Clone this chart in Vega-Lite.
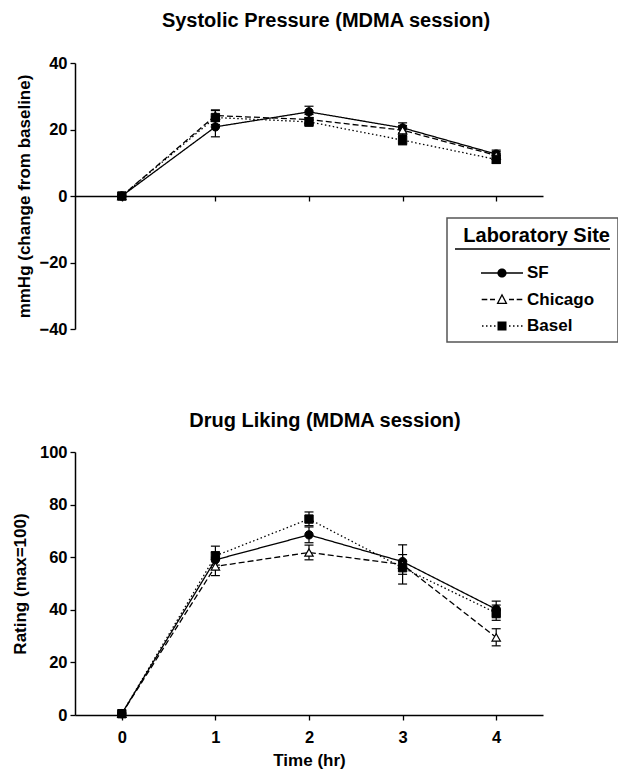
{
  "$schema": "https://vega.github.io/schema/vega-lite/v6.json",
  "padding": {"left": 11, "top": 11, "right": 0, "bottom": 5},
  "config": {
    "font": "Liberation Sans",
    "view": {"stroke": null},
    "axis": {
      "grid": false,
      "domainColor": "black",
      "domainWidth": 1.5,
      "tickColor": "black",
      "tickWidth": 1.3,
      "tickSize": 5,
      "labelFont": "Liberation Sans",
      "labelFontSize": 16.5,
      "labelFontWeight": "bold",
      "labelColor": "black",
      "labelPadding": 3,
      "titleFont": "Liberation Sans",
      "titleFontSize": 17,
      "titleFontWeight": "bold",
      "titleColor": "black"
    },
    "legend": {"strokeWidth": 1.5},
    "title": {"font": "Liberation Sans", "fontSize": 20, "fontWeight": "bold", "color": "black"}
  },
  "datasets": {
    "bp": [
      {"time": 0, "site": "SF", "value": 0, "lo": 0, "hi": 0},
      {"time": 0, "site": "Chicago", "value": 0, "lo": 0, "hi": 0},
      {"time": 0, "site": "Basel", "value": 0, "lo": 0, "hi": 0},
      {"time": 1, "site": "SF", "value": 20.8, "lo": 17.8, "hi": 23.8},
      {"time": 1, "site": "Chicago", "value": 24.2, "lo": 22.5, "hi": 25.9},
      {"time": 1, "site": "Basel", "value": 23.6, "lo": 21.5, "hi": 25.7},
      {"time": 2, "site": "SF", "value": 25.3, "lo": 23.6, "hi": 27.0},
      {"time": 2, "site": "Chicago", "value": 23.0, "lo": 21.5, "hi": 24.5},
      {"time": 2, "site": "Basel", "value": 22.3, "lo": 21.0, "hi": 23.6},
      {"time": 3, "site": "SF", "value": 20.5, "lo": 19.0, "hi": 22.0},
      {"time": 3, "site": "Chicago", "value": 19.8, "lo": 18.4, "hi": 21.2},
      {"time": 3, "site": "Basel", "value": 16.8, "lo": 15.4, "hi": 18.2},
      {"time": 4, "site": "SF", "value": 12.6, "lo": 11.4, "hi": 13.8},
      {"time": 4, "site": "Chicago", "value": 12.2, "lo": 11.0, "hi": 13.4},
      {"time": 4, "site": "Basel", "value": 11.0, "lo": 9.8, "hi": 12.2}
    ],
    "liking": [
      {"time": 0, "site": "SF", "value": 0.5, "lo": 0.5, "hi": 0.5},
      {"time": 0, "site": "Chicago", "value": 0.5, "lo": 0.5, "hi": 0.5},
      {"time": 0, "site": "Basel", "value": 0.5, "lo": 0.5, "hi": 0.5},
      {"time": 1, "site": "SF", "value": 59.0, "lo": 56.0, "hi": 62.0},
      {"time": 1, "site": "Chicago", "value": 56.5, "lo": 53.0, "hi": 60.0},
      {"time": 1, "site": "Basel", "value": 60.5, "lo": 57.0, "hi": 64.2},
      {"time": 2, "site": "SF", "value": 68.5, "lo": 65.5, "hi": 71.5},
      {"time": 2, "site": "Chicago", "value": 61.8, "lo": 59.0, "hi": 64.6},
      {"time": 2, "site": "Basel", "value": 74.5, "lo": 72.0, "hi": 77.2},
      {"time": 3, "site": "SF", "value": 58.3, "lo": 55.5, "hi": 61.0},
      {"time": 3, "site": "Chicago", "value": 57.2, "lo": 49.8, "hi": 64.7},
      {"time": 3, "site": "Basel", "value": 56.0, "lo": 53.5, "hi": 58.5},
      {"time": 4, "site": "SF", "value": 40.2, "lo": 37.0, "hi": 43.3},
      {"time": 4, "site": "Chicago", "value": 29.5, "lo": 26.3, "hi": 32.8},
      {"time": 4, "site": "Basel", "value": 38.8, "lo": 36.0, "hi": 41.8}
    ]
  },
  "vconcat": [
    {
      "width": 468,
      "height": 266,
      "title": {"text": "Systolic Pressure (MDMA session)", "offset": 24, "dx": 17},
      "data": {"name": "bp"},
      "encoding": {
        "x": {"field": "time", "type": "quantitative",
          "scale": {"domain": [-0.5, 4.5], "nice": false, "zero": false},
          "axis": {"values": [0, 1, 2, 3, 4], "labels": false, "title": null, "offset": -133}}
      },
      "layer": [
        {
          "mark": {"type": "line", "color": "black", "strokeWidth": 1.3},
          "encoding": {
            "y": {"field": "value", "type": "quantitative",
              "scale": {"domain": [-40, 40], "nice": false},
              "axis": {"values": [-40, -20, 0, 20, 40], "title": "mmHg (change from baseline)", "titlePadding": 6}},
            "strokeDash": {"field": "site", "type": "nominal",
              "scale": {"domain": ["SF", "Chicago", "Basel"], "range": [[1, 0], [6, 3], [1.5, 2.5]]}, "legend": null}
          }
        },
        {
          "transform": [{"filter": "datum.time > 0"}],
          "mark": {"type": "rule", "color": "black", "strokeWidth": 1.2},
          "encoding": {"y": {"field": "lo", "type": "quantitative"}, "y2": {"field": "hi"}}
        },
        {
          "transform": [{"filter": "datum.time > 0"}],
          "mark": {"type": "tick", "orient": "horizontal", "color": "black", "size": 9, "thickness": 1.2, "opacity": 1},
          "encoding": {"y": {"field": "lo", "type": "quantitative"}}
        },
        {
          "transform": [{"filter": "datum.time > 0"}],
          "mark": {"type": "tick", "orient": "horizontal", "color": "black", "size": 9, "thickness": 1.2, "opacity": 1},
          "encoding": {"y": {"field": "hi", "type": "quantitative"}}
        },
        {
          "transform": [{"filter": "datum.site == 'SF'"}],
          "mark": {"type": "point", "shape": "circle", "filled": true, "fill": "black", "stroke": "black", "strokeWidth": 1, "size": 70, "opacity": 1},
          "encoding": {"y": {"field": "value", "type": "quantitative"}}
        },
        {
          "transform": [{"filter": "datum.site == 'Chicago'"}],
          "mark": {"type": "point", "shape": "triangle-up", "filled": true, "fill": "white", "stroke": "black", "strokeWidth": 1.2, "size": 70, "opacity": 1},
          "encoding": {"y": {"field": "value", "type": "quantitative"}}
        },
        {
          "transform": [{"filter": "datum.site == 'Basel'"}],
          "mark": {"type": "point", "shape": "square", "filled": true, "fill": "black", "stroke": "black", "strokeWidth": 1, "size": 70, "opacity": 1},
          "encoding": {"y": {"field": "value", "type": "quantitative"}}
        },
        {
          "transform": [{"filter": "datum.time < 0"}],
          "mark": {"type": "point", "filled": true, "color": "black", "opacity": 1, "strokeWidth": 0},
          "encoding": {
            "y": {"field": "value", "type": "quantitative"},
            "shape": {"field": "site", "type": "nominal",
              "scale": {"domain": ["SF", "Chicago", "Basel"], "range": [
                "M-1,-2.475H14.5V-2.325H-1ZM1.6,-0.065H3.3V0.065H1.6ZM4.1,-0.065H5.8V0.065H4.1ZM4.16,0A0.46,0.46,0,1,1,3.24,0A0.46,0.46,0,1,1,4.16,0ZM14.5,0",
                "M1.67,-0.065H2.23V0.065H1.67ZM2.5,-0.065H3V0.065H2.5ZM4.4,-0.065H4.9V0.065H4.4ZM5.17,-0.065H5.73V0.065H5.17ZM3.7,-0.6L4.25,0.45L3.15,0.45ZM3.7,-0.32L3.364,0.32L4.036,0.32ZM14.5,0",
                "M1.7,-0.065H1.85V0.065H1.7ZM2.1,-0.065H2.25V0.065H2.1ZM2.5,-0.065H2.65V0.065H2.5ZM2.9,-0.065H3.05V0.065H2.9ZM4.4,-0.065H4.55V0.065H4.4ZM4.8,-0.065H4.95V0.065H4.8ZM5.2,-0.065H5.35V0.065H5.2ZM5.6,-0.065H5.75V0.065H5.6ZM3.25,-0.45H4.15V0.45H3.25ZM14.5,0"
              ]},
              "legend": {
                "title": "Laboratory Site",
                "orient": "none", "legendX": 372, "legendY": 155,
                "titleFontSize": 20, "titleFontWeight": "bold", "titleColor": "black", "titleFont": "Liberation Sans",
                "titlePadding": 17,
                "titleAnchor": "end",
                "labelFontSize": 17, "labelFontWeight": "bold", "labelColor": "black", "labelFont": "Liberation Sans",
                "labelOffset": 52,
                "symbolSize": 400,
                "symbolStrokeWidth": 0,
                "symbolFillColor": "black",
                "rowPadding": 8.5,
                "padding": 8,
                "strokeColor": "#555555"
              }
            }
          }
        }
      ]
    },
    {
      "width": 468,
      "height": 263,
      "title": {"text": "Drug Liking (MDMA session)", "offset": 13, "dx": 16},
      "data": {"name": "liking"},
      "encoding": {
        "x": {"field": "time", "type": "quantitative",
          "scale": {"domain": [-0.5, 4.5], "nice": false, "zero": false},
          "axis": {"values": [0, 1, 2, 3, 4], "title": "Time (hr)", "labelPadding": 9, "titlePadding": 7}}
      },
      "layer": [
        {
          "mark": {"type": "line", "color": "black", "strokeWidth": 1.3},
          "encoding": {
            "y": {"field": "value", "type": "quantitative",
              "scale": {"domain": [0, 100], "nice": false},
              "axis": {"values": [0, 20, 40, 60, 80, 100], "title": "Rating (max=100)", "titlePadding": 10}},
            "strokeDash": {"field": "site", "type": "nominal",
              "scale": {"domain": ["SF", "Chicago", "Basel"], "range": [[1, 0], [6, 3], [1.5, 2.5]]}, "legend": null}
          }
        },
        {
          "transform": [{"filter": "datum.time > 0"}],
          "mark": {"type": "rule", "color": "black", "strokeWidth": 1.2},
          "encoding": {"y": {"field": "lo", "type": "quantitative"}, "y2": {"field": "hi"}}
        },
        {
          "transform": [{"filter": "datum.time > 0"}],
          "mark": {"type": "tick", "orient": "horizontal", "color": "black", "size": 9, "thickness": 1.2, "opacity": 1},
          "encoding": {"y": {"field": "lo", "type": "quantitative"}}
        },
        {
          "transform": [{"filter": "datum.time > 0"}],
          "mark": {"type": "tick", "orient": "horizontal", "color": "black", "size": 9, "thickness": 1.2, "opacity": 1},
          "encoding": {"y": {"field": "hi", "type": "quantitative"}}
        },
        {
          "transform": [{"filter": "datum.site == 'SF'"}],
          "mark": {"type": "point", "shape": "circle", "filled": true, "fill": "black", "stroke": "black", "strokeWidth": 1, "size": 70, "opacity": 1},
          "encoding": {"y": {"field": "value", "type": "quantitative"}}
        },
        {
          "transform": [{"filter": "datum.site == 'Chicago'"}],
          "mark": {"type": "point", "shape": "triangle-up", "filled": true, "fill": "white", "stroke": "black", "strokeWidth": 1.2, "size": 70, "opacity": 1},
          "encoding": {"y": {"field": "value", "type": "quantitative"}}
        },
        {
          "transform": [{"filter": "datum.site == 'Basel'"}],
          "mark": {"type": "point", "shape": "square", "filled": true, "fill": "black", "stroke": "black", "strokeWidth": 1, "size": 70, "opacity": 1},
          "encoding": {"y": {"field": "value", "type": "quantitative"}}
        }
      ]
    }
  ],
  "spacing": 68,
  "resolve": {"scale": {"shape": "independent"}, "legend": {"shape": "independent"}}
}
